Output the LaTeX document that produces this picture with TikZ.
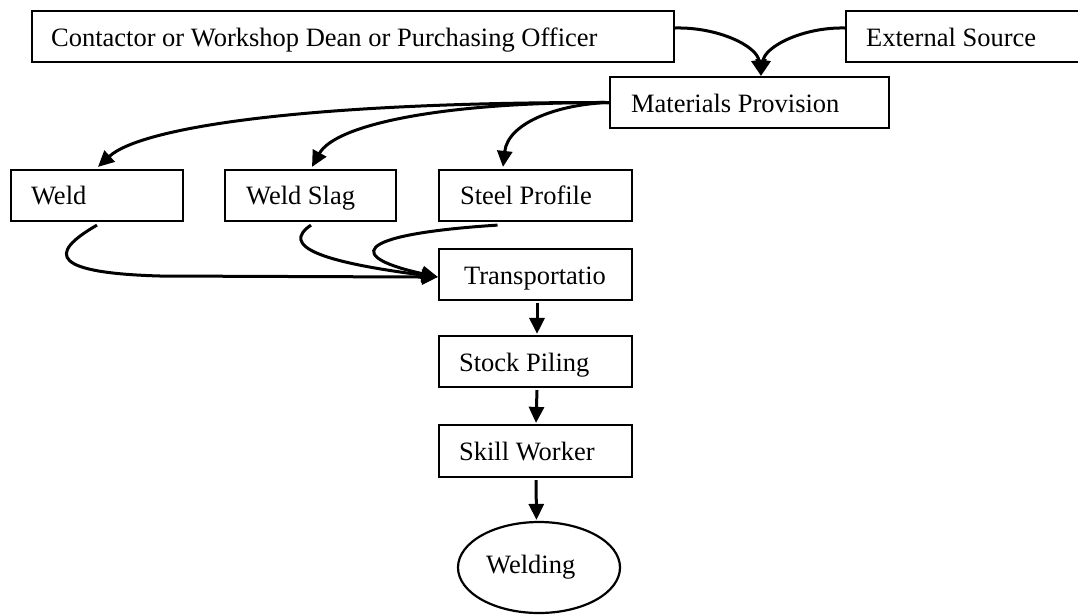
\documentclass[tikz,border=0pt]{standalone}
\usepackage{fontspec}
\setmainfont{Liberation Serif}
\usetikzlibrary{calc,arrows.meta,shapes.geometric}
\begin{document}
\begin{tikzpicture}[x=1pt,y=-1pt,
  box/.style={draw,line width=2.2pt,rectangle,inner sep=0pt,minimum height=51pt},
  oval/.style={draw,line width=2.2pt,ellipse,inner sep=0pt,minimum width=162pt,minimum height=91pt},
  lbl/.style={anchor=base west,inner sep=0pt,font=\fontsize{26.5}{30}\selectfont},
  conn/.style={line width=3pt,-{Triangle[length=16pt,width=15pt]}},
]
\useasboundingbox (0,0) rectangle (1078,614);
% boxes
\node[box,minimum width=642pt] (cont) at (353,36.5) {};
\node[box,minimum width=236pt] (ext) at (964,36.5) {};
\node[box,minimum width=279pt] (mat) at (749.5,102.5) {};
\node[box,minimum width=172pt] (weld) at (97,195.5) {};
\node[box,minimum width=171pt] (slag) at (310.5,195.5) {};
\node[box,minimum width=193pt] (steel) at (535.5,195.5) {};
\node[box,minimum width=193pt] (trans) at (535.5,274.5) {};
\node[box,minimum width=193pt] (stock) at (535.5,361.5) {};
\node[box,minimum width=193pt,minimum height=52pt] (skill) at (535.5,451) {};
\node[oval] (weldg) at (539,567.5) {};
% labels
\node[lbl] (contT) at ($(cont.west)+(20,9.5)$) {Contactor or Workshop Dean or Purchasing Officer};
\node[lbl] (extT) at ($(ext.west)+(21,9.5)$) {External Source};
\node[lbl] (matT) at ($(mat.west)+(22,9.5)$) {Materials Provision};
\node[lbl] (weldT) at ($(weld.west)+(21,9)$) {Weld};
\node[lbl] (slagT) at ($(slag.west)+(22,9)$) {Weld Slag};
\node[lbl] (steelT) at ($(steel.west)+(22,9)$) {Steel Profile};
\node[lbl] (transT) at ($(trans.west)+(26,9.5)$) {Transportatio};
\node[lbl] (stockT) at ($(stock.west)+(21,9.5)$) {Stock Piling};
\node[lbl] (skillT) at ($(skill.west)+(21,9.5)$) {Skill Worker};
\node[lbl] (weldgT) at ($(weldg.center)+(-53,5.5)$) {Welding};
% top connectors
\coordinate (mtop) at ($(mat.north)+(11.5,0)$);
\draw[conn] ($(cont.east)+(0,-8.5)$) .. controls (718,27) and (757,46) .. (mtop);
\draw[conn] ($(ext.west)+(0,-8.5)$) .. controls (804,27) and (765,46) .. (mtop);
% materials to children
\coordinate (weldtip) at ($(weld.north)+(1,-2)$);
\coordinate (slagtip) at ($(slag.north)+(1.5,-2)$);
\coordinate (steeltip) at ($(steel.north)+(-32.5,-2)$);
\draw[conn] (mat.west) .. controls (300,102) and (140,128) .. (weldtip);
\draw[conn] (mat.west) .. controls (440,102) and (335,125) .. (slagtip);
\draw[conn] (mat.west) .. controls (560,104) and (508,122) .. (steeltip);
% children to transportation
\coordinate (ttip) at ($(trans.west)+(0,2.5)$);
\draw[line width=3pt] ($(weld.south)+(0,3)$) .. controls (45,255) and (55,273) .. (160,276) -- (420,277);
\draw[conn] (420,277) -- (ttip);
\draw[conn] ($(slag.south)+(0.5,3)$) .. controls (280,246) and (320,262) .. (ttip);
\draw[conn] ($(steel.south)+(-38,3)$) .. controls (345,235) and (350,258) .. (ttip);
% vertical chain
\draw[conn] ($(trans.south)+(1.5,2)$) -- ($(stock.north)+(1.5,-1)$);
\draw[conn] ($(stock.south)+(1.5,2)$) -- ($(skill.north)+(0.5,-1)$);
\draw[conn] ($(skill.south)+(0.5,2)$) -- ($(weldg.north)+(-2.5,-1)$);
\end{tikzpicture}
\end{document}
